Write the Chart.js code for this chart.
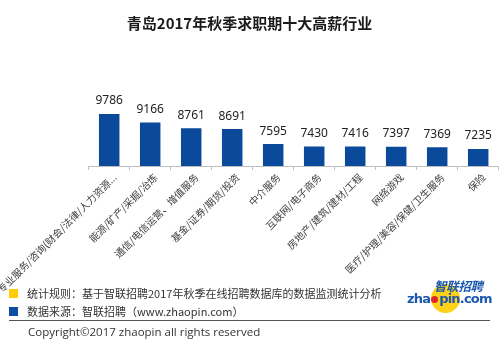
<!DOCTYPE html>
<html>
<head>
<meta charset="utf-8">
<script src="https://cdn.jsdelivr.net/npm/chart.js@4/dist/chart.umd.min.js"></script>
<style>
  html, body { margin:0; padding:0; background:#fff; }
  #wrap { position:relative; width:499px; height:346px; overflow:hidden; font-family:"Noto Sans CJK SC", "Noto Sans", sans-serif; }
  #chartBox { position:absolute; left:0; top:0; width:499px; height:346px; }
  .title { position:absolute; left:0; width:499px; top:12px; text-align:center; font-size:15px; font-weight:bold; color:#1a1a1a; }
  .note { position:absolute; left:27px; font-size:11px; color:#333; white-space:nowrap; line-height:14px; }
  .sq { position:absolute; left:9px; width:9px; height:9px; }
  .rule { position:absolute; left:9px; width:481px; top:320px; height:0; border-top:1.5px solid #555; }
  .copy { position:absolute; left:28px; top:324px; font-family:"Open Sans", sans-serif; font-size:11.5px; color:#333; white-space:nowrap; }
  .logo { position:absolute; left:396px; top:280px; width:96px; height:40px; }
  .logo .sun { position:absolute; left:35px; top:4px; width:29px; height:29px; border-radius:50%; background:#ffd21a; }
  .logo .cn { position:absolute; left:38px; top:-2px; font-size:12.5px; line-height:15px; font-weight:bold; font-style:italic; color:#1c58b0; letter-spacing:-0.3px; white-space:nowrap; }
  .logo .en { position:absolute; left:11px; top:11px; font-family:"DejaVu Sans", sans-serif; font-size:13px; line-height:16px; font-weight:bold; color:#1c58b0; letter-spacing:-0.8px; white-space:nowrap; }
  .logo .dot { display:inline-block; width:7px; height:7px; border-radius:50%; background:#e0262b; margin:0 1px 0 1px; }
</style>
</head>
<body>
<div id="wrap">
  <div id="chartBox"><canvas id="chart"></canvas></div>
  <div class="title">青岛2017年秋季求职期十大高薪行业</div>
  <div class="sq" style="top:289px;background:#ffcc00"></div>
  <div class="note" style="top:286px">统计规则：基于智联招聘2017年秋季在线招聘数据库的数据监测统计分析</div>
  <div class="sq" style="top:307px;background:#0b4da2"></div>
  <div class="note" style="top:304px">数据来源：智联招聘（www.zhaopin.com）</div>
  <div class="logo">
    <div class="sun"></div>
    <div class="cn">智联招聘</div>
    <div class="en">zha<span class="dot"></span>pin.com</div>
  </div>
  <div class="rule"></div>
  <div class="copy">Copyright©2017 zhaopin all rights reserved</div>
</div>
<script>
const industries = [
  "专业服务/咨询(财会/法律/人力资源...",
  "能源/矿产/采掘/冶炼",
  "通信/电信运营、增值服务",
  "基金/证券/期货/投资",
  "中介服务",
  "互联网/电子商务",
  "房地产/建筑/建材/工程",
  "网络游戏",
  "医疗/护理/美容/保健/卫生服务",
  "保险"
];
const salaries = [9786, 9166, 8761, 8691, 7595, 7430, 7416, 7397, 7369, 7235];

const BAR_COLOR = "#0b4a9b";

// value labels above each bar
const valueLabels = {
  id: "valueLabels",
  afterDatasetsDraw(chart) {
    const ctx = chart.ctx;
    const meta = chart.getDatasetMeta(0);
    ctx.save();
    ctx.font = "12px 'Noto Sans', sans-serif";
    ctx.fillStyle = "#222";
    ctx.textAlign = "center";
    ctx.textBaseline = "bottom";
    meta.data.forEach((bar, i) => {
      ctx.fillText(String(salaries[i]), bar.x, bar.y - 7);
    });
    ctx.restore();
  }
};

// slanted category names, drawn by hand so the long first one can run off the edge
const slantedLabels = {
  id: "slantedLabels",
  afterDraw(chart) {
    const ctx = chart.ctx;
    const xs = chart.scales.x;
    const y0 = chart.chartArea.bottom + 6;
    ctx.save();
    ctx.font = "10px 'Noto Sans CJK SC', sans-serif";
    ctx.fillStyle = "#404040";
    ctx.textAlign = "right";
    ctx.textBaseline = "top";
    industries.forEach((name, i) => {
      const x = xs.getPixelForValue(i);
      ctx.save();
      ctx.translate(x + 2, y0);
      ctx.rotate(-Math.PI / 4);
      ctx.fillText(name, 0, 0);
      ctx.restore();
    });
    ctx.restore();
  }
};

new Chart(document.getElementById("chart"), {
  type: "bar",
  data: {
    labels: industries,
    datasets: [{
      data: salaries,
      backgroundColor: BAR_COLOR,
      borderWidth: 0,
      categoryPercentage: 1,
      barPercentage: 0.5
    }]
  },
  options: {
    responsive: true,
    maintainAspectRatio: false,
    animation: false,
    layout: { padding: { left: 88.7, right: 0.3, top: 83.7, bottom: 176 } },
    plugins: { legend: { display: false }, tooltip: { enabled: false } },
    scales: {
      x: {
        grid: { drawOnChartArea: false, color: "#bfbfbf", tickLength: 4 },
        border: { color: "#bfbfbf", width: 1 },
        ticks: { display: false }
      },
      y: {
        display: false,
        min: 6000,
        max: 12000
      }
    }
  },
  plugins: [valueLabels, slantedLabels]
});
</script>
</body>
</html>
